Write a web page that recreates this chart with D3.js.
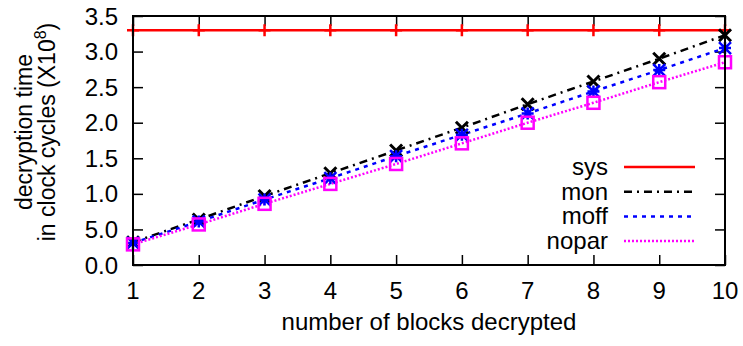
<!DOCTYPE html>
<html>
<head>
<meta charset="utf-8">
<script src="https://cdn.jsdelivr.net/npm/d3@7"></script>
<style>
  body { margin: 0; background: #fff; }
  text { font-family: "Liberation Sans", Arial, sans-serif; fill: #000; }
</style>
</head>
<body>
<div id="chart"></div>
<script>
// data (units of 10^8 cycles)
var blocks = [1, 2, 3, 4, 5, 6, 7, 8, 9, 10];
var sys   = [3.3, 3.3, 3.3, 3.3, 3.3, 3.3, 3.3, 3.3, 3.3, 3.3];
var mon   = [0.32, 0.64, 0.97, 1.29, 1.61, 1.93, 2.26, 2.58, 2.90, 3.23];
var moff  = [0.31, 0.61, 0.92, 1.22, 1.53, 1.83, 2.13, 2.44, 2.74, 3.05];
var nopar = [0.29, 0.57, 0.86, 1.14, 1.42, 1.71, 2.00, 2.28, 2.57, 2.85];
var yTicks = [0, 0.5, 1, 1.5, 2, 2.5, 3, 3.5];
var yTickLabels = ["0.0", "5.0", "1.0", "1.5", "2.0", "2.5", "3.0", "3.5"];

var svgWidth = 743, svgHeight = 346;
var margin = { top: 16, right: 18, bottom: 81, left: 133 };
var width = svgWidth - margin.left - margin.right;
var height = svgHeight - margin.top - margin.bottom;
var fs = 24;

var svg = d3.select("#chart").append("svg")
  .attr("width", svgWidth)
  .attr("height", svgHeight);

var g = svg.append("g")
  .attr("transform", `translate(${margin.left}, ${margin.top})`);

var xScale = d3.scaleLinear().domain([1, 10]).range([0, width]);
var yScale = d3.scaleLinear().domain([0, 3.5]).range([height, 0]);

// ticks on all four sides, pointing inward
var tickLen = 10;
g.append("g").attr("transform", `translate(0, ${height})`)
  .call(d3.axisTop(xScale).tickValues(blocks).tickSize(tickLen).tickFormat(""));
g.append("g")
  .call(d3.axisBottom(xScale).tickValues(blocks).tickSize(tickLen).tickFormat(""));
g.append("g")
  .call(d3.axisRight(yScale).tickValues(yTicks).tickSize(tickLen).tickFormat(""));
g.append("g").attr("transform", `translate(${width}, 0)`)
  .call(d3.axisLeft(yScale).tickValues(yTicks).tickSize(tickLen).tickFormat(""));
g.selectAll(".domain").remove();
g.selectAll(".tick line").attr("stroke", "#000").attr("stroke-width", 1.5);

// tick labels
g.selectAll(".xlab").data(blocks).enter().append("text")
  .attr("x", d => xScale(d))
  .attr("y", height + 34)
  .attr("text-anchor", "middle")
  .attr("font-size", fs + "px")
  .text(d => d);

g.selectAll(".ylab").data(yTicks).enter().append("text")
  .attr("x", -15)
  .attr("y", d => yScale(d) + 8.5)
  .attr("text-anchor", "end")
  .attr("font-size", fs + "px")
  .text((d, i) => yTickLabels[i]);

// axis titles
svg.append("text")
  .attr("x", margin.left + width / 2)
  .attr("y", 330)
  .attr("text-anchor", "middle")
  .attr("font-size", fs + "px")
  .text("number of blocks decrypted");

var yt = svg.append("g").attr("transform", "translate(0, 132) rotate(-90)");
yt.append("text")
  .attr("x", 0).attr("y", 32)
  .attr("text-anchor", "middle")
  .attr("font-size", "23px")
  .text("decryption time");
var yt2 = yt.append("text")
  .attr("x", 0).attr("y", 55)
  .attr("text-anchor", "middle")
  .attr("font-size", "23px");
yt2.append("tspan").text("in clock cycles (X10");
yt2.append("tspan").attr("dy", -9).attr("font-size", "16px").text("8");
yt2.append("tspan").attr("dy", 9).text(")");

var series = [
  { name: "sys",   values: sys,   color: "#ff0000", dash: null,      marker: "plus" },
  { name: "mon",   values: mon,   color: "#000000", dash: "8,5,2,5", marker: "cross" },
  { name: "moff",  values: moff,  color: "#0000ff", dash: "4,5",     marker: "star" },
  { name: "nopar", values: nopar, color: "#ff00ff", dash: "2,2",     marker: "square" }
];

var line = d3.line()
  .x((d, i) => xScale(blocks[i]))
  .y(d => yScale(d));

var plot = g.append("g");

series.forEach(function(s) {
  plot.append("path")
    .datum(s.values)
    .attr("fill", "none")
    .attr("stroke", s.color)
    .attr("stroke-width", 2.5)
    .attr("stroke-dasharray", s.dash)
    .attr("d", line);
});

function drawMarker(sel, type, color) {
  var r = 6;
  if (type === "plus") {
    sel.append("path").attr("d", `M${-r},0H${r}M0,${-r}V${r}`)
      .attr("stroke", color).attr("stroke-width", 2.5);
  } else if (type === "cross") {
    sel.append("path").attr("d", `M${-r},${-r}L${r},${r}M${-r},${r}L${r},${-r}`)
      .attr("stroke", color).attr("stroke-width", 3);
  } else if (type === "star") {
    sel.append("path").attr("d", `M${-r},0H${r}M0,${-r}V${r}M${-r},${-r}L${r},${r}M${-r},${r}L${r},${-r}`)
      .attr("stroke", color).attr("stroke-width", 2.5);
  } else if (type === "square") {
    sel.append("rect").attr("x", -r).attr("y", -r).attr("width", 2 * r).attr("height", 2 * r)
      .attr("fill", "none").attr("stroke", color).attr("stroke-width", 2.5);
  }
}

series.forEach(function(s) {
  plot.selectAll(".m-" + s.name).data(s.values).enter().append("g")
    .attr("transform", (d, i) => `translate(${xScale(blocks[i])}, ${yScale(d)})`)
    .each(function() { drawMarker(d3.select(this), s.marker, s.color); });
});

// border
g.append("rect")
  .attr("width", width).attr("height", height)
  .attr("fill", "none").attr("stroke", "#000").attr("stroke-width", 2);

// legend
var legend = g.append("g").attr("transform", `translate(${608 - margin.left}, ${167 - margin.top})`);
series.forEach(function(s, i) {
  var row = legend.append("g").attr("transform", `translate(0, ${i * 24.7})`);
  row.append("text")
    .attr("x", 0).attr("y", 8)
    .attr("text-anchor", "end")
    .attr("font-size", fs + "px")
    .text(s.name);
  row.append("line")
    .attr("x1", 16).attr("x2", 87)
    .attr("y1", 0).attr("y2", 0)
    .attr("stroke", s.color)
    .attr("stroke-width", 2.5)
    .attr("stroke-dasharray", s.dash);
});
</script>
</body>
</html>
